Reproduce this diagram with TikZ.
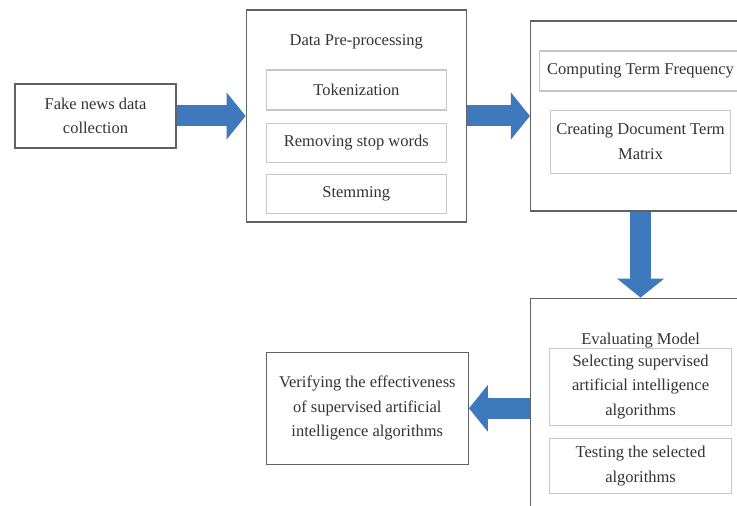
\documentclass[tikz,border=0pt]{standalone}
\usepackage{fontspec}
\setmainfont{Liberation Serif}
\usetikzlibrary{positioning,arrows.meta}
\definecolor{flowblue}{RGB}{62,121,190}

\begin{document}
\begin{tikzpicture}[x=1pt, y=1pt, font=\fontsize{16.5}{24.5}\selectfont, text=black!80]
\tikzstyle{outer}=[rectangle, draw=black!62, line width=1.3pt, minimum width=220pt, inner sep=0pt]
\tikzstyle{inner}=[rectangle, draw=black!22, line width=1.2pt, align=center, inner sep=0pt]
\tikzstyle{title}=[inner sep=0pt]
\tikzstyle{flow}=[line width=21pt, draw=flowblue, -{Triangle[width=46pt,length=19pt]}]
  \clip (0,0) rectangle (737,506);
  \node[outer, minimum width=161pt, minimum height=64pt, align=center] (collect) at (95.5,390) {Fake news data\\collection};
  % pre-processing
  \node[outer, minimum height=212pt] (prep) [right=69pt of collect] {};
  \node[title] (prept) [below=25pt of prep.north] {Data Pre-processing};
  \node[inner, minimum width=180pt, minimum height=40pt] (tok) [below=60pt of prep.north] {Tokenization};
  \node[inner, minimum width=180pt, minimum height=39pt] (stop) [below=12pt of tok] {Removing stop words};
  \node[inner, minimum width=180pt, minimum height=39pt] (stem) [below=11pt of stop] {Stemming};
  % term matrix
  \node[outer, minimum height=190pt] (matrix) [right=63pt of prep] {};
  \node[inner, minimum width=202pt, minimum height=40pt] (freq) [below=30pt of matrix.north] {Computing Term Frequency};
  \node[inner, minimum width=180pt, minimum height=63pt] (docm) [below=18pt of freq] {Creating Document Term\\Matrix};
  % evaluation
  \node[outer, minimum height=220pt] (eval) [below=86pt of matrix] {};
  \node[title] (evalt) [below=35pt of eval.north] {Evaluating Model};
  \node[inner, minimum width=182pt, minimum height=77pt] (select) [below=50pt of eval.north] {Selecting supervised\\artificial intelligence\\algorithms};
  \node[inner, minimum width=182pt, minimum height=55pt] (test) [below=12pt of select] {Testing the selected\\algorithms};
  \node[outer, minimum width=202pt, minimum height=112pt, align=center] (verify) [left=61pt of eval] {Verifying the effectiveness\\of supervised artificial\\intelligence algorithms};
\path (collect.east) edge[flow] (collect.east -| prep.west)
      (prep.east) edge[flow] (prep.east -| matrix.west)
      (matrix.south) edge[flow] (eval.north)
      (verify.east -| eval.west) edge[flow] (verify.east)
      ;
\end{tikzpicture}
\end{document}
